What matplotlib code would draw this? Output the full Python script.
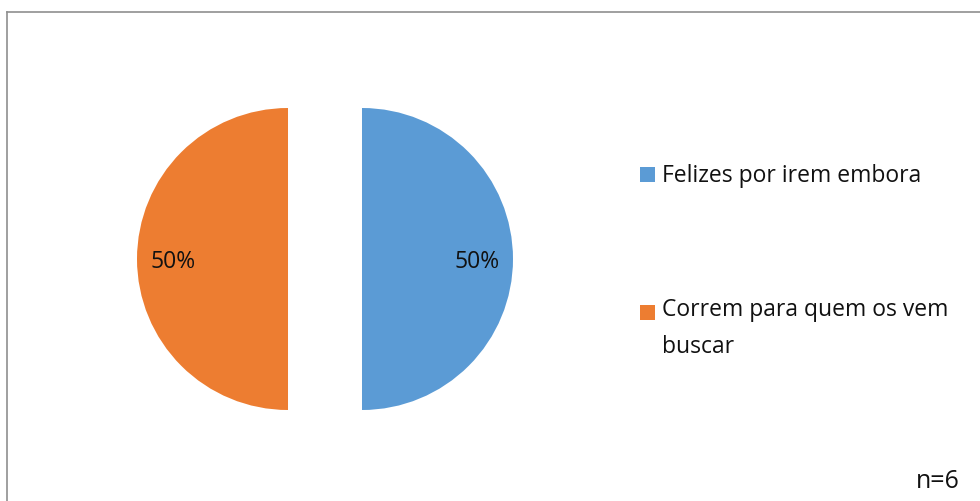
import matplotlib.pyplot as plt
from matplotlib.patches import Rectangle
from matplotlib.lines import Line2D

plt.rcParams['font.family'] = ['Open Sans', 'DejaVu Sans']

labels = ['Felizes por irem embora', 'Correm para quem os vem\nbuscar']
values = [50, 50]
colors = ['#5B9BD5', '#ED7D31']
note = 'n=6'

W, H = 980, 501
fig = plt.figure(figsize=(W / 100, H / 100), dpi=100)

# pie axes: centre at (325, 259) px, radius 151 px
lim = 1.5
side = 2 * lim * 151
ax = fig.add_axes([(325 - side / 2) / W, (H - 259 - side / 2) / H, side / W, side / H])
wedges, texts, autotexts = ax.pie(values, colors=colors, startangle=90, counterclock=False,
                                  explode=[0.245, 0.245], autopct='%1.0f%%',
                                  pctdistance=0.76, radius=1.0,
                                  textprops={'fontsize': 16.5, 'color': '#111111'})
# nudge percentage labels down slightly
for t in autotexts:
    t.set_y(t.get_position()[1] - 3 / 151)
ax.set_xlim(-lim, lim)
ax.set_ylim(-lim, lim)
ax.set_aspect('equal')
ax.axis('off')

# legend drawn by hand so the marker sits on the first line
leg_y = [182, 320]
line_px = 33
for lab, col, yb in zip(labels, colors, leg_y):
    fig.patches.append(Rectangle((640 / W, (H - yb) / H), 15 / W, 15 / H,
                                 transform=fig.transFigure, facecolor=col, edgecolor='none'))
    last = yb + line_px * lab.count('\n')
    fig.text(662 / W, (H - last) / H, lab, fontsize=16.5, color='#111111',
             va='baseline', ha='left', linespacing=1.75)

fig.text(960 / W, (H - 488) / H, note, fontsize=18, color='#111111', ha='right', va='baseline')

# chart frame (only left and top edges visible)
fig.add_artist(Line2D([6.5 / W, 6.5 / W], [0, (H - 11.5) / H], transform=fig.transFigure,
                      color='#8f8f8f', lw=1.2))
fig.add_artist(Line2D([6.5 / W, 1], [(H - 11.5) / H, (H - 11.5) / H], transform=fig.transFigure,
                      color='#8f8f8f', lw=1.2))

fig.savefig('out.png', dpi=100)
